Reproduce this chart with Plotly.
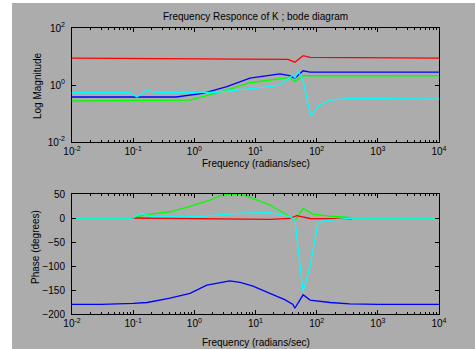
import plotly.graph_objects as go

# ---- data ----
# Magnitude plot
blue_mag_w = [0.01, 0.28, 0.5, 1.38, 3.4, 8.1, 25, 36, 44, 60, 78, 10000]
blue_mag = [0.38, 0.37, 0.38, 0.51, 0.87, 1.74, 2.45, 2.14, 1.74, 3.16, 2.82, 2.82]

green_mag_w = [0.01, 0.85, 1.38, 3.4, 8.1, 25, 36, 44, 60, 10000]
green_mag = [0.275, 0.295, 0.39, 0.66, 1.2, 1.74, 1.86, 1.32, 2.14, 2.09]

red_mag_w = [0.01, 17.2, 34, 44, 60, 78, 10000]
red_mag = [8.7, 8.3, 7.9, 6.3, 10.7, 9.3, 8.7]

cyan_mag_w = [0.01, 0.09, 0.115, 0.17, 0.23, 2.2, 17.2, 25, 30, 41, 44, 50, 60, 80, 112, 166, 347, 10000]
cyan_mag = [0.54, 0.54, 0.38, 0.66, 0.55, 0.55, 0.87, 1.0, 1.32, 2.24, 1.74, 3.09, 1.41, 0.083, 0.2, 0.295, 0.34, 0.32]

# Phase plot
blue_ph_w = [0.01, 0.03, 0.1, 0.17, 0.4, 0.85, 1.6, 3.8, 5.6, 9.1, 17.2, 30, 41, 44, 60, 78, 166, 347, 1000, 10000]
blue_ph = [-180, -180, -178, -176, -167, -157, -140, -131, -134, -142, -157, -170, -180, -188, -160, -171, -176, -179, -180, -180]

green_ph_w = [0.01, 0.095, 0.13, 0.19, 0.4, 0.85, 1.8, 2.6, 3.8, 5.6, 9.1, 17.2, 36, 44, 60, 87, 166, 347, 700, 10000]
green_ph = [0, 0, 4, 8, 13, 24, 37, 46, 50, 50, 41, 27, 3, -6, 20, 8, 4, 1, 0, 0]

red_ph_w = [0.095, 1, 10, 17.2, 36, 47, 78, 380]
red_ph = [0, -1, -2, -3, -1, 5, -1, -2]

cyan_ph_w = [0.01, 0.1, 0.13, 0.19, 1.2, 2.6, 5.6, 17.2, 36, 44, 60, 78, 105, 126, 240, 400, 10000]
cyan_ph = [0, 0, 10, 3, 3, 6, 10, 11, 3, -4, -153, -101, -11, -6, -2, 0, 0]

x_tickvals = [0.01, 0.1, 1, 10, 100, 1000, 10000]
x_ticktext = ["10<sup>-2</sup>", "10<sup>-1</sup>", "10<sup>0</sup>", "10<sup>1</sup>",
              "10<sup>2</sup>", "10<sup>3</sup>", "10<sup>4</sup>"]
mag_tickvals = [0.01, 1, 100]
mag_ticktext = ["10<sup>-2</sup>", "10<sup>0</sup>", "10<sup>2</sup>"]
ph_tickvals = [-200, -150, -100, -50, 0, 50]

title_text = "Frequency Responce of K ; bode diagram"
xlabel = "Frequency (radians/sec)"
mag_label = "Log Magnitude"
ph_label = "Phase (degrees)"

# ---- figure ----
W, H = 475, 349
FONT = "Liberation Sans, Arial, sans-serif"
BLUE, GREEN, RED, CYAN = "#0000ff", "#00ff00", "#ff0000", "#00ffff"
GRAY = "#acacac"

fig = go.Figure()
LW = 1.3
series = [
    (blue_mag_w, blue_mag, "x", "y", BLUE),
    (green_mag_w, green_mag, "x", "y", GREEN),
    (red_mag_w, red_mag, "x", "y", RED),
    (cyan_mag_w, cyan_mag, "x", "y", CYAN),
    (blue_ph_w, blue_ph, "x2", "y2", BLUE),
    (green_ph_w, green_ph, "x2", "y2", GREEN),
    (red_ph_w, red_ph, "x2", "y2", RED),
    (cyan_ph_w, cyan_ph, "x2", "y2", CYAN),
]
for xs, ys, xa, ya, c in series:
    fig.add_trace(go.Scatter(x=xs, y=ys, xaxis=xa, yaxis=ya, mode="lines",
                             line=dict(color=c, width=LW), showlegend=False,
                             hoverinfo="skip"))

xdom = [72 / W, 439 / W]
top_dom = [1 - 142 / H, 1 - 28 / H]
bot_dom = [1 - 314 / H, 1 - 194 / H]

common_axis = dict(showline=True, linecolor="black", linewidth=1, mirror="ticks",
                   ticks="inside", ticklen=4, tickcolor="black", showgrid=False,
                   zeroline=False, tickfont=dict(family=FONT, size=10, color="black"))
minor_x = dict(ticks="inside", ticklen=2, tickcolor="black", dtick="D1", showgrid=False)

fig.update_layout(
    width=W, height=H,
    autosize=False,
    margin=dict(l=0, r=0, t=0, b=0, pad=0, autoexpand=False),
    paper_bgcolor="white",
    plot_bgcolor="white",
    font=dict(family=FONT, size=10, color="black"),
    xaxis=dict(type="log", range=[-2, 4], domain=xdom, anchor="y",
               tickmode="array", tickvals=x_tickvals, ticktext=x_ticktext,
               minor=minor_x, ticklabelstandoff=0, **common_axis),
    yaxis=dict(type="log", range=[-2, 2], domain=top_dom, anchor="x",
               tickmode="array", tickvals=mag_tickvals, ticktext=mag_ticktext,
               ticklabelstandoff=4, **common_axis),
    xaxis2=dict(type="log", range=[-2, 4], domain=xdom, anchor="y2",
                tickmode="array", tickvals=x_tickvals, ticktext=x_ticktext,
                minor=minor_x, ticklabelstandoff=0, **common_axis),
    yaxis2=dict(range=[-200, 50], domain=bot_dom, anchor="x2",
                tickmode="array", tickvals=ph_tickvals,
                ticklabelstandoff=4, **common_axis),
    shapes=[
        dict(type="rect", xref="paper", yref="paper", x0=12 / W, x1=1, y0=0, y1=1 - 3 / H,
             fillcolor=GRAY, line=dict(width=0), layer="below"),
    ],
    annotations=[
        dict(text=title_text, xref="paper", yref="paper", x=255.5 / W, y=1 - 16 / H,
             showarrow=False, xanchor="center", yanchor="middle",
             font=dict(family=FONT, size=10, color="black")),
        dict(text=xlabel, xref="paper", yref="paper", x=255.5 / W, y=1 - 164 / H,
             showarrow=False, xanchor="center", yanchor="middle",
             font=dict(family=FONT, size=10, color="black")),
        dict(text=xlabel, xref="paper", yref="paper", x=255.5 / W, y=1 - 342 / H,
             showarrow=False, xanchor="center", yanchor="middle",
             font=dict(family=FONT, size=10, color="black")),
        dict(text=mag_label, xref="paper", yref="paper", x=38 / W, y=1 - 86 / H,
             showarrow=False, xanchor="center", yanchor="middle", textangle=-90,
             font=dict(family=FONT, size=10, color="black")),
        dict(text=ph_label, xref="paper", yref="paper", x=35 / W, y=1 - 247 / H,
             showarrow=False, xanchor="center", yanchor="middle", textangle=-90,
             font=dict(family=FONT, size=10, color="black")),
    ],
)

fig.write_html("out.html")
